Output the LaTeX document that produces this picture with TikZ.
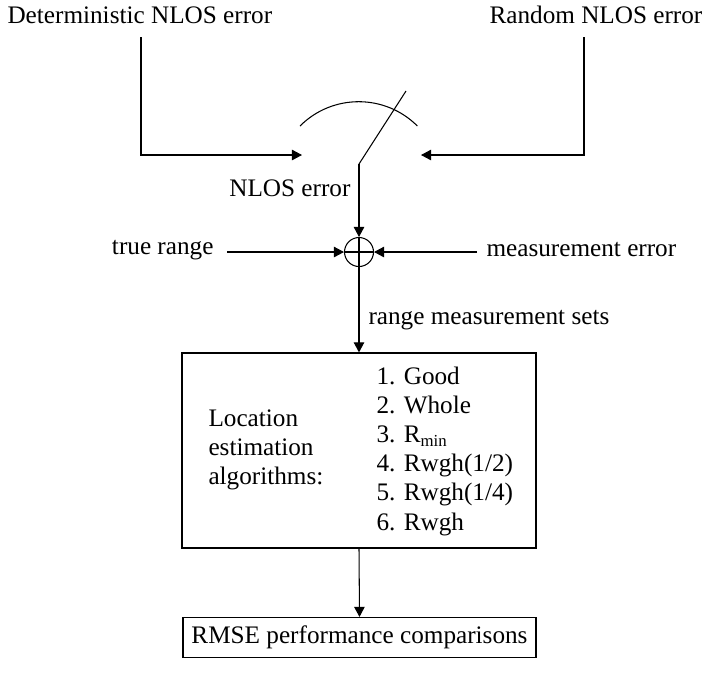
\documentclass[tikz,border=0pt,12pt]{standalone}
\usepackage{fontspec}
\setmainfont{Liberation Serif}
\usepackage{tikz}
\usetikzlibrary{positioning,arrows.meta}
\tikzset{%
  lbl/.style={
    inner sep=0pt,
    font=\fontsize{12}{13.9}\selectfont
  },
  blk/.style={
    draw,
    line width=0.6pt,
    inner sep=0pt,
    font=\fontsize{12}{13.9}\selectfont
  },
  sumpt/.style={
    circle,
    draw,
    minimum size=13.8pt,
    inner sep=0pt,
    path picture={\draw (path picture bounding box.north) -- (path picture bounding box.south)
                        (path picture bounding box.west) -- (path picture bounding box.east);}
  },
  sig/.style={-{Triangle[length=4.8pt,width=5pt]}},
}

\begin{document}
\begin{tikzpicture}[x=0.476pt, y=-0.476pt, line width=0.5pt]
\useasboundingbox (0,0) rectangle (704,679);
% sources and switch
\node[lbl, anchor=west] (det) at (7,15) {Deterministic NLOS error};
\node[lbl, anchor=west] (rnd) at (489,15) {Random NLOS error};
\coordinate (detdown) at (141,37);
\coordinate (rnddown) at (584,37);
\coordinate (swl) at (302,155);
\coordinate (swr) at (421,155);
\coordinate (swpivot) at (359,164);
\coordinate (swtip) at (406,91);
\draw[sig] (detdown) |- (swl);
\draw[sig] (rnddown) |- (swr);
\draw (300,126) arc[start angle=-135, end angle=-45, radius=83];
\draw (swtip) -- (swpivot);
\node[lbl, anchor=east] (nlos) at (351,188) {NLOS error};
% summing point
\node[sumpt] (sum) at (359,252) {};
\node[lbl, anchor=east] (truer) at (214,250) {true range};
\node[lbl, anchor=west] (merr) at (486,250) {measurement error};
\coordinate (truein) at (227,252);
\coordinate (merrin) at (477,252);
\draw[sig] (swpivot) -- (sum.north);
\draw[sig] (truein) -- (sum.west);
\draw[sig] (merrin) -- (sum.east);
% algorithms
\node[blk, minimum width=168.5pt, minimum height=92.8pt] (alg) at (359,450.5) {};
\node[lbl, align=left, anchor=west] (loc) at (208,450) {Location\\estimation\\algorithms:};
\node[lbl, align=left, anchor=west] (list) at (376,451)
  {1. Good\\2. Whole\\3. R\textsubscript{min}\\4. Rwgh(1/2)\\5. Rwgh(1/4)\\6. Rwgh};
\draw[sig] (sum.south) -- (alg.north);
\node[lbl, anchor=west] (rms) at (368,320) {range measurement sets};
% output
\node[blk, minimum width=168pt, minimum height=19pt] (rmse) at (359.5,637.5) {RMSE performance comparisons};
\draw[sig] (alg.south) -- (rmse.north);
\end{tikzpicture}
\end{document}
